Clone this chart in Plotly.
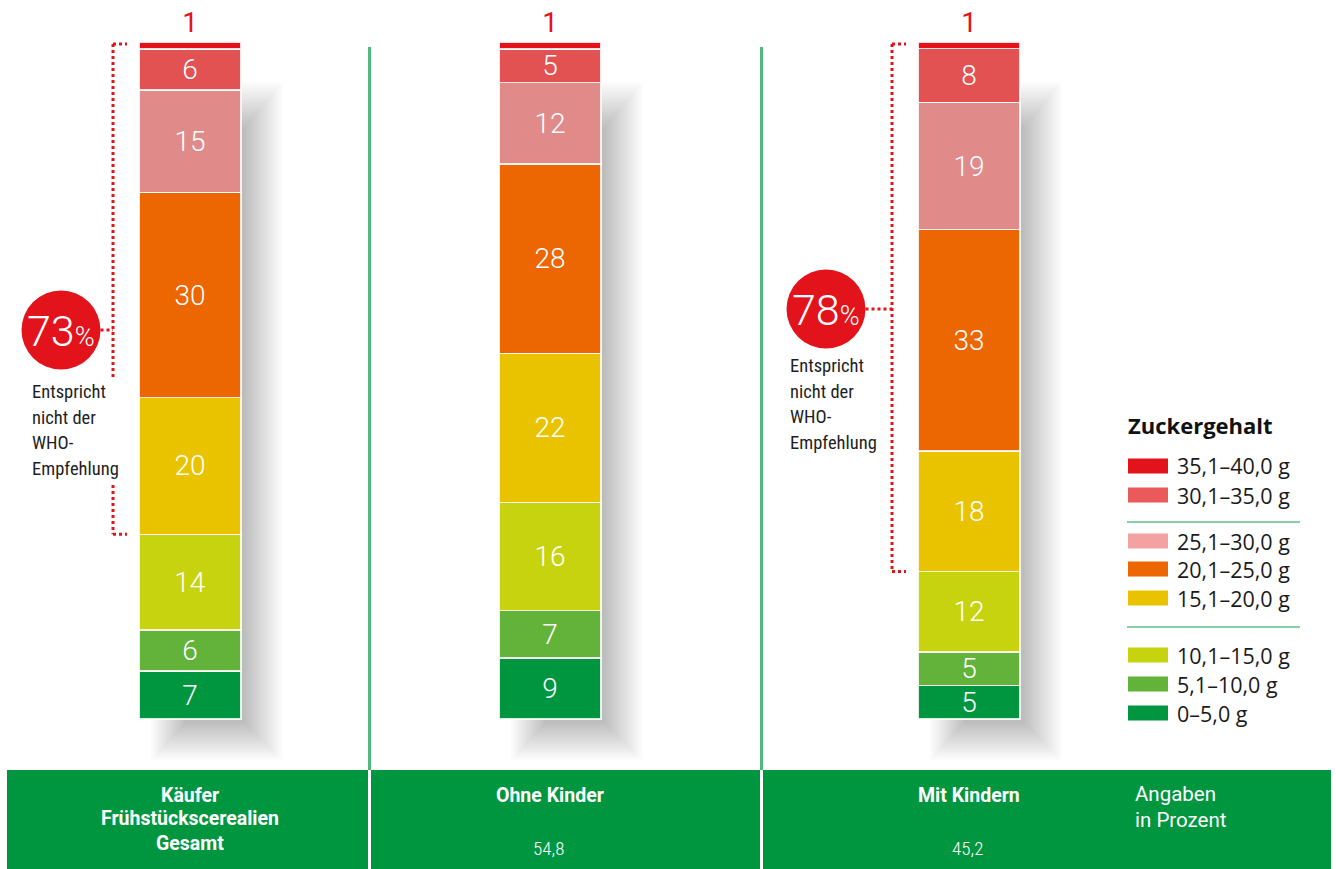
import plotly.graph_objects as go

# ---------------- data ----------------
GROUP_KEYS = ["Gesamt", "Ohne Kinder", "Mit Kindern"]
FOOTER_LABELS = ["Käufer<br>Frühstückscerealien<br>Gesamt", "Ohne Kinder", "Mit Kindern"]
GROUP_SHARES = ["", "54,8", "45,2"]

SUGAR_CLASSES = ["0–5,0 g", "5,1–10,0 g", "10,1–15,0 g", "15,1–20,0 g",
                 "20,1–25,0 g", "25,1–30,0 g", "30,1–35,0 g", "35,1–40,0 g"]
SHARE_0_5 = [7, 9, 5]
SHARE_5_10 = [6, 7, 5]
SHARE_10_15 = [14, 16, 12]
SHARE_15_20 = [20, 22, 18]
SHARE_20_25 = [30, 28, 33]
SHARE_25_30 = [15, 12, 19]
SHARE_30_35 = [6, 5, 8]
SHARE_35_40 = [1, 1, 1]
WHO_NONCOMPLIANT = [73, None, 78]
WHO_OK_CLASSES = 3  # first three classes are within WHO recommendation

SERIES = [SHARE_0_5, SHARE_5_10, SHARE_10_15, SHARE_15_20,
          SHARE_20_25, SHARE_25_30, SHARE_30_35, SHARE_35_40]

# ---------------- style / layout ----------------
BAR_COLORS = ["#00963f", "#63b33a", "#c8d30f", "#e9c300",
              "#ec6602", "#e08a8a", "#e25252", "#e3131b"]
LEGEND_COLORS = ["#00963f", "#63b33a", "#c8d30f", "#e9c300",
                 "#ec6602", "#f3a1a1", "#eb5a5a", "#e3131b"]
RED = "#e3131b"
GREEN = "#00963f"
LIGHT_GREEN = "#52b87c"
W, H = 1336, 869
BAR_X = [190, 550, 969]
BAR_W = 102
Y_BOTTOM_PX, Y_TOP_PX = 719, 42
UNIT = (Y_BOTTOM_PX - Y_TOP_PX) / 100.0
NARROW = "Roboto Condensed, Liberation Sans Narrow, DejaVu Sans Condensed, sans-serif"
ROBOTO = "Roboto, Open Sans, sans-serif"
REG = "Open Sans, Noto Sans, sans-serif"

def pyv(v):  # data value -> pixel y
    return Y_BOTTOM_PX - v * UNIT

def yp(p):  # pixel y -> paper
    return 1 - p / H

fig = go.Figure()
for i, (cls, vals, col) in enumerate(zip(SUGAR_CLASSES, SERIES, BAR_COLORS)):
    top = i == len(SERIES) - 1
    fig.add_trace(go.Bar(
        x=BAR_X, y=vals, width=BAR_W, name=cls,
        marker=dict(color=col, line=dict(color="rgba(255,255,255,0.85)", width=1.5)),
        text=[str(v) for v in vals],
        textposition="outside" if top else "inside",
        insidetextanchor="middle", textangle=0,
        textfont=dict(family=ROBOTO, size=28, color=RED if top else "white",
                      weight=400 if top else 300),
        cliponaxis=False, showlegend=False, hoverinfo="skip",
    ))

shapes = []
ann = []

# soft drop shadows to the right of the bars
for bx in BAR_X:
    l, r = bx - BAR_W / 2, bx + BAR_W / 2
    for k in range(22):
        e = k * 1.8
        shapes.append(dict(type="rect", xref="x", yref="paper", layer="below",
                           x0=l + 46 - e * 0.9, x1=r + 4 + e,
                           y0=yp(Y_BOTTOM_PX + 4 + e), y1=yp(Y_TOP_PX + 85 - e * 1.2),
                           line=dict(width=0), fillcolor="rgba(0,0,0,0.0125)"))

# vertical green separators
for sx in [369.5, 761.5]:
    shapes.append(dict(type="line", xref="x", yref="paper", x0=sx, x1=sx,
                       y0=yp(47), y1=yp(770), line=dict(color=LIGHT_GREEN, width=3)))

# footer band
for x0, x1 in [(7, 368), (371, 760), (763, 1331)]:
    shapes.append(dict(type="rect", xref="x", yref="paper", x0=x0, x1=x1,
                       y0=0, y1=yp(770), line=dict(width=0), fillcolor=GREEN))

FOOTER_LINE_Y = [795, 818, 843]
for bx, lab, sh in zip(BAR_X, FOOTER_LABELS, GROUP_SHARES):
    for j, line in enumerate(lab.split("<br>")):
        ann.append(dict(x=bx, y=yp(FOOTER_LINE_Y[j]), xref="x", yref="paper",
                        text="<b>" + line + "</b>", showarrow=False,
                        font=dict(family=ROBOTO, size=19.5, color="white"),
                        xanchor="center", yanchor="middle"))
    if sh:
        ann.append(dict(x=bx - 2, y=yp(848), xref="x", yref="paper", text=sh,
                        showarrow=False, font=dict(family=NARROW, size=19, color="white", weight=300),
                        xanchor="center", yanchor="middle"))
for j, line in enumerate(["Angaben", "in Prozent"]):
    ann.append(dict(x=1133, y=yp(794 + j * 26), xref="x", yref="paper", text=line,
                    showarrow=False, font=dict(family=ROBOTO, size=20.5, color="white"),
                    xanchor="left", yanchor="middle"))

# WHO brackets
BRACKET_CFG = {0: dict(cx=61, cy=330, text_x=30, text_y0=392, gap=(380, 485)),
               2: dict(cx=826, cy=309, text_x=788, text_y0=366, gap=None)}
dot = dict(color=RED, width=3, dash="dot")
for gi, cfg in BRACKET_CFG.items():
    vals = [s[gi] for s in SERIES]
    total = float(sum(vals))
    low = sum(vals[:WHO_OK_CLASSES]) / total * 100
    left = BAR_X[gi] - BAR_W / 2
    lx = left - 26
    ytop, ybot = pyv(100) + 2, pyv(low)
    segs = [(ytop, ybot)] if cfg["gap"] is None else [(ytop, cfg["gap"][0]), (cfg["gap"][1], ybot)]
    for a, b in segs:
        shapes.append(dict(type="line", xref="x", yref="paper", x0=lx, x1=lx,
                           y0=yp(a), y1=yp(b), line=dot))
    for yy in (ytop, ybot):
        shapes.append(dict(type="line", xref="x", yref="paper", x0=lx, x1=lx + 14,
                           y0=yp(yy), y1=yp(yy), line=dot))
    cx, cy, rr = cfg["cx"], cfg["cy"], 39.5
    shapes.append(dict(type="line", xref="x", yref="paper", x0=cx + rr, x1=lx,
                       y0=yp(cy), y1=yp(cy), line=dot))
    shapes.append(dict(type="circle", xref="x", yref="paper", x0=cx - rr, x1=cx + rr,
                       y0=yp(cy + rr), y1=yp(cy - rr), line=dict(width=0), fillcolor=RED))
    ann.append(dict(x=cx, y=yp(cy + 1), xref="x", yref="paper",
                    text=f"{WHO_NONCOMPLIANT[gi]}<span style='font-size:27px'>%</span>",
                    showarrow=False, font=dict(family=ROBOTO, size=43, color="white", weight=300),
                    xanchor="center", yanchor="middle"))
    for j, line in enumerate(["Entspricht", "nicht der", "WHO-", "Empfehlung"]):
        ann.append(dict(x=cfg["text_x"], y=yp(cfg["text_y0"] + j * 25.5), xref="x", yref="paper",
                        text=line, showarrow=False,
                        font=dict(family=NARROW, size=18.5, color="#1e1e1e"),
                        xanchor="left", yanchor="middle"))

# legend
ann.append(dict(x=1126, y=yp(425), xref="x", yref="paper", text="<b>Zuckergehalt</b>",
                showarrow=False, font=dict(family=REG, size=22, color="#111"),
                xanchor="left", yanchor="middle"))
LEGEND_ROW_Y = [713, 684, 655, 598, 569, 541, 495, 466]  # bottom class first
for cls, col, ry in zip(SUGAR_CLASSES, LEGEND_COLORS, LEGEND_ROW_Y):
    shapes.append(dict(type="rect", xref="x", yref="paper", x0=1128, x1=1168,
                       y0=yp(ry + 7.5), y1=yp(ry - 7.5), line=dict(width=0), fillcolor=col))
    ann.append(dict(x=1175, y=yp(ry), xref="x", yref="paper", text=cls, showarrow=False,
                    font=dict(family=REG, size=21.5, color="#1a1a1a"),
                    xanchor="left", yanchor="middle"))
for ly in [522, 627]:
    shapes.append(dict(type="line", xref="x", yref="paper", x0=1127, x1=1300,
                       y0=yp(ly), y1=yp(ly), line=dict(color="#5cc08a", width=1.5)))

fig.update_layout(
    width=W, height=H, margin=dict(l=0, r=0, t=0, b=0),
    paper_bgcolor="white", plot_bgcolor="white",
    barmode="stack", barnorm="percent",
    uniformtext=dict(minsize=28, mode="show"),
    xaxis=dict(range=[0, W], visible=False, fixedrange=True),
    yaxis=dict(range=[-(H - Y_BOTTOM_PX) / UNIT, 100 + Y_TOP_PX / UNIT],
               visible=False, fixedrange=True),
    shapes=shapes, annotations=ann, showlegend=False,
)
fig.write_html("out.html", config={"displayModeBar": False},
               post_script="document.body.style.margin='0';document.body.style.overflow='hidden';")
